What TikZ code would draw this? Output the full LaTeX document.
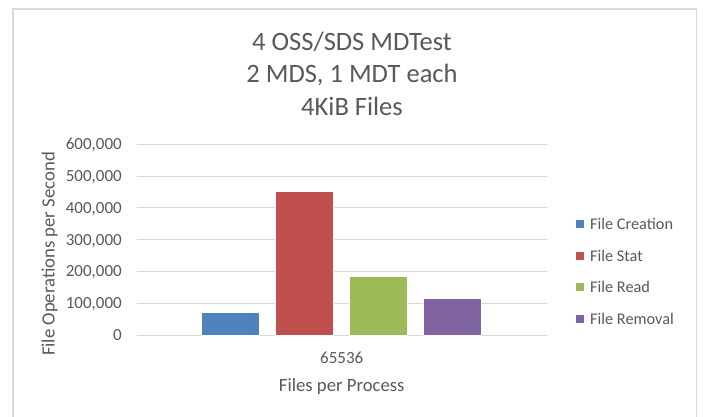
\documentclass[tikz,border=0pt]{standalone}
\usepackage{fontspec}
\setmainfont{Carlito}
\definecolor{txt}{HTML}{595959}
\definecolor{gridc}{HTML}{D9D9D9}
\definecolor{frame}{HTML}{D9D9D9}
\definecolor{sblue}{HTML}{4F81BD}
\definecolor{sred}{HTML}{C0504D}
\definecolor{sgreen}{HTML}{9BBB59}
\definecolor{spurple}{HTML}{8064A2}
\begin{document}
\begin{tikzpicture}[x=1pt,y=-1pt,
  ticklbl/.style={anchor=base east,text=txt,inner sep=0pt,font=\fontsize{17}{17}\selectfont},
  titlelbl/.style={anchor=base,text=txt,inner sep=0pt,font=\fontsize{26.5}{26.5}\selectfont},
  axlbl/.style={anchor=base,text=txt,inner sep=0pt,font=\fontsize{18.7}{18.7}\selectfont},
  leglbl/.style={anchor=base west,text=txt,inner sep=0pt,font=\fontsize{16.3}{16.3}\selectfont},
  gridline/.style={draw=gridc,line width=1pt},
  bar/.style={draw=white,line width=0.6pt},
  legkey/.style={minimum size=8pt,inner sep=0pt,draw=none}]
  \useasboundingbox (0,0) rectangle (704,416);
  \fill[white] (0,0) rectangle (704,416);
  % chart frame
  \draw[frame,line width=1.6pt] (12.7,430) -- (12.7,9) -- (696.5,9) -- (696.5,430);
  % title
  \node[titlelbl] (t1) at (352,50) {4 OSS/SDS MDTest};
  \node[titlelbl] (t2) at (352,82.5) {2 MDS, 1 MDT each};
  \node[titlelbl] (t3) at (352,115) {4KiB Files};
  % gridlines and value labels
  \foreach \v/\lab [count=\i] in {0/0,1/{100,000},2/{200,000},3/{300,000},4/{400,000},5/{500,000},6/{600,000}}{
    \pgfmathsetmacro{\yy}{335-31.78*\v}
    \draw[gridline] (136.7,\yy) -- (546.7,\yy);
    \node[ticklbl] (tick\i) at (122,\yy+5.5) {\lab};
  }
  % bars
  \pgfmathsetmacro{\ya}{335-0.3178*71.3}
  \pgfmathsetmacro{\yb}{335-0.3178*453}
  \pgfmathsetmacro{\yc}{335-0.3178*186}
  \pgfmathsetmacro{\yd}{335-0.3178*115}
  \fill[sblue,bar] (201.7,335) rectangle (259.7,\ya);
  \fill[sred,bar] (275.7,335) rectangle (333.7,\yb);
  \fill[sgreen,bar] (349.7,335) rectangle (407.7,\yc);
  \fill[spurple,bar] (423.7,335) rectangle (481.7,\yd);
  % axis labels
  \node[ticklbl,anchor=base] (cat) at (341.7,363.2) {65536};
  \node[axlbl] (xt) at (341.7,391.7) {Files per Process};
  \node[axlbl,rotate=90] (yt) at (54.7,254) {File Operations per Second};
  % legend
  \foreach \c/\lab/\yy [count=\i] in {sblue/File Creation/224,sred/File Stat/255.7,sgreen/File Read/287.3,spurple/File Removal/319}{
    \node[legkey,fill=\c] (key\i) at (579.8,\yy) {};
    \node[leglbl] (leg\i) at (590,\yy+5.3) {\lab};
  }
\end{tikzpicture}
\end{document}
